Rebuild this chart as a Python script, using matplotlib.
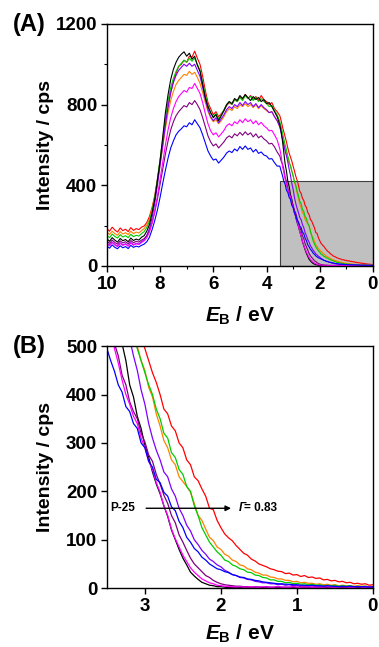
import numpy as np
import matplotlib
matplotlib.use("Agg")
import matplotlib.pyplot as plt
from matplotlib.ticker import MultipleLocator

plt.rcParams['font.family'] = ['Liberation Sans', 'DejaVu Sans']
plt.rcParams['font.weight'] = 'bold'
plt.rcParams['mathtext.fontset'] = 'custom'
plt.rcParams['mathtext.it'] = 'Liberation Sans:italic:bold'
plt.rcParams['mathtext.rm'] = 'Liberation Sans:bold'
plt.rcParams['mathtext.bf'] = 'Liberation Sans:bold'

# energias de enlace (eV): paso 0.1 hasta 3.6, paso 0.05 en la zona del borde
energia_a = [10.0, 9.9, 9.8, 9.7, 9.6, 9.5, 9.4, 9.3, 9.2, 9.1, 9.0, 8.9, 8.8, 8.7, 8.6, 8.5,
             8.4, 8.3, 8.2, 8.1, 8.0, 7.9, 7.8, 7.7, 7.6, 7.5, 7.4, 7.3, 7.2, 7.1, 7.0, 6.9,
             6.8, 6.7, 6.6, 6.5, 6.4, 6.3, 6.2, 6.1, 6.0, 5.9, 5.8, 5.7, 5.6, 5.5, 5.4, 5.3,
             5.2, 5.1, 5.0, 4.9, 4.8, 4.7, 4.6, 4.5, 4.4, 4.3, 4.2, 4.1, 4.0, 3.9, 3.8, 3.7, 3.6]
energia_b = [3.5, 3.45, 3.4, 3.35, 3.3, 3.25, 3.2, 3.15, 3.1, 3.05, 3.0, 2.95, 2.9, 2.85, 2.8,
             2.75, 2.7, 2.65, 2.6, 2.55, 2.5, 2.45, 2.4, 2.35, 2.3, 2.25, 2.2, 2.15, 2.1, 2.05,
             2.0, 1.95, 1.9, 1.85, 1.8, 1.75, 1.7, 1.65, 1.6, 1.55, 1.5, 1.45, 1.4, 1.35, 1.3,
             1.25, 1.2, 1.15, 1.1, 1.05, 1.0, 0.95, 0.9, 0.85, 0.8, 0.75, 0.7, 0.65, 0.6, 0.55,
             0.5, 0.45, 0.4, 0.35, 0.3, 0.25, 0.2, 0.15, 0.1, 0.05, 0.0]
energia = energia_a + energia_b

rojo = [185, 172, 192, 178, 168, 188, 175, 182, 170, 190, 176, 185, 180, 192, 198, 215,
        245, 290, 350, 430, 520, 610, 700, 790, 860, 915, 955, 990, 1000, 1020, 1010, 1040,
        1035, 1065, 1030, 1000, 940, 870, 810, 780, 750, 765, 740, 755, 770, 795, 810, 800,
        825, 815, 840, 825, 850, 830, 845, 825, 840, 820, 845, 825, 815, 800, 810, 780, 765,
        745, 720, 690, 665, 640, 615, 585, 560, 540, 520, 495, 470, 445, 425, 400,
        370, 360, 335, 325, 300, 290, 265, 255, 230, 222, 205, 190, 165, 162, 140,
        125, 112, 104, 98, 88, 80, 72, 68, 60, 56, 50, 47, 44, 40, 38,
        35, 34, 30, 31, 27, 28, 24, 26, 22, 23, 20, 21, 17, 18, 15,
        16, 13, 14, 11, 12, 9, 10, 8, 9, 6, 7]
naranja = [168, 156, 172, 160, 152, 170, 158, 165, 155, 172, 160, 168, 163, 175, 185, 203,
           232, 280, 340, 415, 500, 590, 680, 760, 820, 865, 900, 920, 935, 950, 945, 965,
           950, 960, 935, 905, 860, 810, 765, 735, 715, 725, 705, 720, 740, 765, 780, 770,
           790, 780, 800, 790, 805, 790, 800, 785, 800, 780, 795, 780, 770, 760, 765, 740, 720,
           690, 665, 635, 605, 580, 555, 530, 505, 500, 470, 450, 415, 395, 360, 335,
           305, 290, 265, 255, 230, 220, 210, 198, 175, 150, 140, 122, 105, 98, 85,
           80, 70, 66, 58, 55, 48, 46, 40, 38, 33, 31, 27, 27, 23, 22,
           19, 19, 16, 16, 13, 14, 11, 12, 10, 10, 8, 9, 7, 8, 6,
           7, 5, 6, 5, 5, 4, 5, 4, 4, 3, 4]
verde = [150, 140, 158, 146, 138, 155, 143, 150, 140, 157, 145, 152, 148, 160, 170, 190,
         222, 275, 340, 430, 530, 630, 730, 820, 885, 930, 965, 990, 1005, 1020, 1010, 1030,
         1015, 1030, 1000, 970, 910, 850, 795, 760, 740, 755, 730, 750, 775, 800, 815, 800,
         825, 815, 835, 820, 845, 830, 840, 820, 835, 815, 830, 815, 805, 790, 795, 770, 750,
         715, 690, 660, 630, 600, 575, 545, 520, 495, 470, 445, 420, 400, 370, 350,
         320, 310, 280, 270, 245, 235, 210, 200, 170, 150, 125, 110, 95, 85, 75,
         68, 58, 55, 48, 45, 40, 38, 33, 32, 27, 26, 22, 21, 17, 17,
         14, 14, 11, 12, 9, 10, 8, 9, 7, 8, 6, 7, 5, 6, 5,
         6, 4, 5, 4, 5, 3, 4, 3, 4, 2, 3]
violeta = [112, 102, 118, 106, 98, 114, 104, 110, 100, 116, 105, 112, 108, 120, 130, 150,
           185, 240, 310, 400, 500, 600, 700, 790, 860, 910, 945, 970, 985, 1000, 990, 1005,
           990, 1000, 970, 940, 885, 825, 775, 740, 720, 735, 710, 730, 750, 775, 790, 780,
           800, 790, 810, 795, 815, 800, 810, 790, 805, 785, 800, 785, 775, 760, 765, 740, 720,
           690, 660, 630, 600, 570, 545, 515, 480, 450, 410, 380, 340, 310, 285, 265,
           240, 230, 205, 190, 165, 150, 130, 118, 100, 90, 78, 70, 60, 55, 48,
           44, 37, 33, 28, 26, 22, 21, 18, 17, 14, 13, 11, 11, 9, 9,
           7, 8, 6, 7, 5, 6, 4, 5, 4, 5, 3, 4, 3, 4, 3,
           3, 2, 3, 2, 3, 2, 3, 2, 3, 2, 2]
negro = [135, 122, 140, 128, 118, 136, 125, 131, 120, 138, 126, 133, 128, 142, 150, 172,
         205, 262, 330, 425, 520, 640, 760, 850, 925, 975, 1010, 1035, 1050, 1062, 1040, 1055,
         1025, 1040, 995, 965, 900, 835, 790, 760, 735, 750, 720, 745, 770, 800, 815, 805,
         830, 820, 845, 830, 850, 835, 820, 840, 825, 835, 815, 825, 805, 810, 790, 765, 740,
         700, 665, 620, 560, 505, 470, 420, 395, 355, 330, 295, 270, 240, 215, 195,
         170, 148, 120, 100, 80, 62, 48, 33, 25, 18, 12, 9, 6, 5, 3,
         3, 2, 1, 2, 1, 1, 2, 1, 0, 1, 2, 1, 1, 0, 1,
         2, 1, 1, 0, 1, 1, 2, 1, 0, 1, 1, 1, 2, 1, 0,
         1, 1, 1, 0, 1, 2, 1, 1, 0, 1, 1]
purpura = [122, 112, 128, 116, 108, 124, 114, 120, 110, 126, 115, 122, 118, 128, 135, 150,
           175, 215, 268, 332, 405, 480, 555, 620, 675, 715, 745, 765, 780, 795, 788, 810,
           800, 820, 800, 775, 735, 690, 645, 615, 595, 605, 585, 600, 615, 635, 645, 635,
           655, 645, 662, 648, 665, 650, 660, 640, 655, 635, 645, 630, 620, 605, 608, 590, 565,
           545, 520, 505, 480, 440, 420, 385, 365, 350, 320, 302, 275, 262, 235, 215,
           192, 175, 150, 135, 110, 95, 78, 62, 50, 42, 34, 26, 22, 16, 12,
           9, 7, 6, 5, 4, 4, 3, 3, 2, 3, 2, 2, 3, 2, 2,
           3, 2, 2, 2, 3, 2, 2, 3, 2, 2, 2, 3, 2, 2, 3,
           2, 2, 2, 3, 2, 2, 3, 2, 2, 2, 2]
magenta = [110, 100, 116, 104, 96, 112, 102, 108, 98, 114, 103, 110, 106, 116, 124, 140,
           168, 212, 272, 345, 430, 515, 600, 675, 735, 780, 815, 840, 855, 870, 862, 885,
           880, 905, 880, 855, 810, 755, 705, 670, 650, 660, 640, 655, 672, 695, 705, 695,
           715, 705, 725, 710, 730, 715, 725, 705, 720, 700, 712, 695, 685, 670, 672, 650, 625,
           580, 545, 495, 465, 430, 400, 380, 355, 340, 310, 290, 262, 245, 218, 198,
           170, 150, 122, 102, 85, 68, 55, 42, 33, 26, 19, 15, 11, 9, 6,
           5, 4, 3, 3, 2, 3, 2, 2, 3, 2, 2, 3, 2, 2, 2,
           3, 2, 2, 2, 3, 2, 2, 2, 3, 2, 2, 2, 2, 3, 2,
           2, 2, 3, 2, 2, 2, 3, 2, 2, 2, 3]
azul = [98, 88, 104, 92, 85, 100, 90, 96, 86, 102, 92, 98, 94, 102, 108, 120,
        142, 180, 225, 278, 340, 410, 475, 535, 585, 620, 650, 668, 680, 695, 690, 710,
        700, 725, 705, 685, 650, 610, 570, 545, 525, 530, 510, 525, 540, 560, 570, 562,
        580, 570, 592, 578, 595, 578, 585, 565, 578, 558, 565, 550, 545, 530, 532, 512, 495,
        495, 470, 448, 420, 405, 375, 365, 340, 330, 300, 290, 262, 250, 225, 218,
        198, 190, 168, 160, 138, 125, 105, 95, 82, 75, 64, 58, 50, 45, 40,
        38, 34, 32, 28, 26, 23, 22, 19, 18, 16, 15, 13, 12, 11, 10,
        9, 9, 8, 8, 7, 7, 6, 6, 5, 6, 5, 5, 4, 5, 4,
        4, 3, 4, 3, 4, 3, 3, 3, 3, 2, 3]

series = [('#ff0000', rojo), ('#ff8000', naranja), ('#00cc00', verde), ('#8000ff', violeta),
          ('#000000', negro), ('#800080', purpura), ('#ff00ff', magenta), ('#0000ff', azul)]
for c, y in series:
    assert len(y) == len(energia), (c, len(y))

# zona ampliada en (B)
zona_x = [3.5, 0.0]
zona_y = 420

etiqueta_x = r'$\mathit{E}_{\mathrm{B}}$ / eV'

fig = plt.figure(figsize=(3.79, 6.47), dpi=100)
axA = fig.add_axes([0.282, 0.589, 0.702, 0.374])
axB = fig.add_axes([0.282, 0.091, 0.702, 0.374])

axA.fill_between(zona_x, 0, zona_y, facecolor='#c0c0c0', edgecolor='#404040', lw=0.8, zorder=0)
for c, y in series:
    axA.plot(energia, y, color=c, lw=0.8)
    axB.plot(energia, y, color=c, lw=0.9)

axA.set_xlim(10, 0)
axA.set_ylim(0, 1200)
axA.xaxis.set_major_locator(MultipleLocator(2))
axA.xaxis.set_minor_locator(MultipleLocator(1))
axA.yaxis.set_major_locator(MultipleLocator(400))
axA.yaxis.set_minor_locator(MultipleLocator(200))

axB.set_xlim(3.5, 0)
axB.set_ylim(0, 500)
axB.xaxis.set_major_locator(MultipleLocator(1))
axB.yaxis.set_major_locator(MultipleLocator(100))

for ax in (axA, axB):
    ax.tick_params(direction='out', length=4.5, width=1, labelsize=13.5, pad=2.5,
                   top=False, right=False)
    ax.tick_params(which='minor', direction='out', length=2.5, width=0.8)
    for s in ax.spines.values():
        s.set_linewidth(1.0)
    ax.set_ylabel('Intensity / cps', fontsize=14, fontweight='bold')
    ax.yaxis.set_label_coords(-0.20, 0.5)

axA.set_xlabel(etiqueta_x, fontsize=15, fontweight='bold', labelpad=9)
axB.set_xlabel(etiqueta_x, fontsize=15, fontweight='bold', labelpad=6)

axB.annotate('', xy=(1.83, 165), xytext=(3.02, 165),
             arrowprops=dict(arrowstyle='-|>', color='black', lw=1.0, mutation_scale=8))
axB.text(3.46, 165, 'P-25', fontsize=8.5, fontweight='bold', va='center', ha='left')
axB.text(1.77, 165, 'Γ', fontsize=8.5, fontweight='bold', fontstyle='italic',
         va='center', ha='left')
axB.text(1.69, 165, '= 0.83', fontsize=8.5, fontweight='bold', va='center', ha='left')

fig.text(0.035, 0.962, '(A)', fontsize=17, fontweight='bold', va='center')
fig.text(0.035, 0.465, '(B)', fontsize=17, fontweight='bold', va='center')

fig.savefig('out.png', dpi=100)
